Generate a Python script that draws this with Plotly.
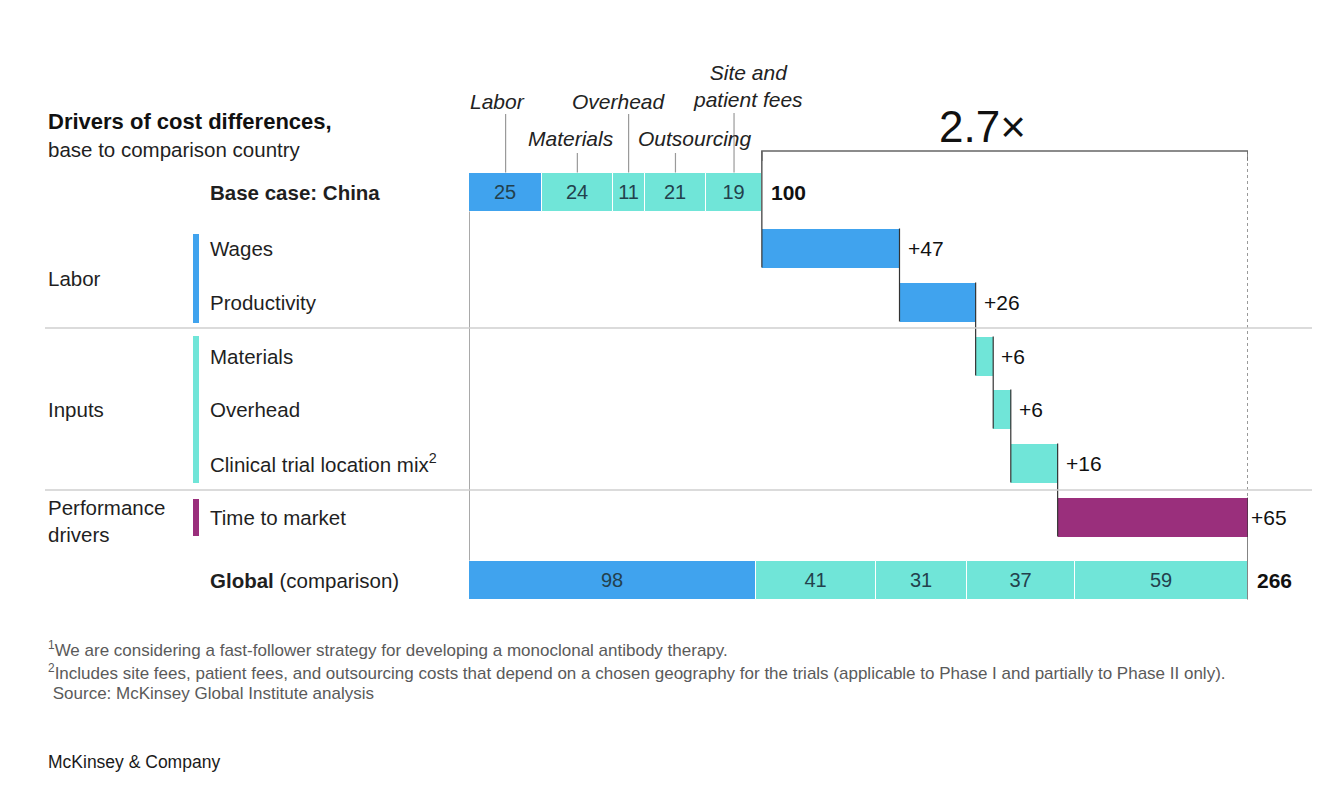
import plotly.graph_objects as go
import numpy as np

# ---------------- data ----------------
BASE_LABELS = ["Labor", "Materials", "Overhead", "Outsourcing", "Site and<br>patient fees"]
BASE_VALUES = [25, 24, 11, 21, 19]
BASE_COLORS_KEY = ["labor", "inputs", "inputs", "inputs", "inputs"]

STEP_LABELS = ["Wages", "Productivity", "Materials", "Overhead", "Clinical trial location mix<sup>2</sup>", "Time to market"]
STEP_VALUES = [47, 26, 6, 6, 16, 65]
STEP_GROUPS = ["labor", "labor", "inputs", "inputs", "inputs", "perf"]

GLOBAL_VALUES = [98, 41, 31, 37, 59]
GLOBAL_COLORS_KEY = ["labor", "inputs", "inputs", "inputs", "inputs"]

GROUPS = [("labor", "Labor"), ("inputs", "Inputs"), ("perf", "Performance<br>drivers")]
MULTIPLE = "2.7×"

# ---------------- styles / layout ----------------
W, H = 1334, 794
COL = {"labor": "#40A3EE", "inputs": "#70E5D8", "perf": "#9A2F7C"}
FONT = "Liberation Sans, Arial, sans-serif"
TXT = "#1f1f1f"
X0_PX, X1_PX = 469, 1248
TOTAL = sum(GLOBAL_VALUES)
ROW_Y = [192, 248, 302, 356, 409, 463, 517, 580]  # row centres (px)
BAR_H = 39

def px(x):
    return x / W

fig = go.Figure()

# base case stacked bar
base_off = np.concatenate([[0], np.cumsum(BASE_VALUES)[:-1]]).astype(float)
fig.add_trace(go.Bar(
    orientation="h", y=[ROW_Y[0]] * len(BASE_VALUES), x=BASE_VALUES, base=base_off,
    width=BAR_H, marker=dict(color=[COL[k] for k in BASE_COLORS_KEY], line=dict(color="white", width=1)),
    text=[str(v) for v in BASE_VALUES], textposition="inside", insidetextanchor="middle",
    textfont=dict(family=FONT, size=20, color="#23414d"), hoverinfo="skip", showlegend=False))

# waterfall steps
base_total = sum(BASE_VALUES)
step_off = base_total + np.concatenate([[0], np.cumsum(STEP_VALUES)[:-1]]).astype(float)
fig.add_trace(go.Bar(
    orientation="h", y=ROW_Y[1:1 + len(STEP_VALUES)], x=STEP_VALUES, base=step_off,
    width=BAR_H, marker=dict(color=[COL[g] for g in STEP_GROUPS], line=dict(width=0)),
    textposition="none", hoverinfo="skip", showlegend=False))

# global stacked bar
glob_off = np.concatenate([[0], np.cumsum(GLOBAL_VALUES)[:-1]]).astype(float)
fig.add_trace(go.Bar(
    orientation="h", y=[ROW_Y[-1]] * len(GLOBAL_VALUES), x=GLOBAL_VALUES, base=glob_off,
    width=BAR_H, marker=dict(color=[COL[k] for k in GLOBAL_COLORS_KEY], line=dict(color="white", width=1)),
    text=[str(v) for v in GLOBAL_VALUES], textposition="inside", insidetextanchor="middle",
    textfont=dict(family=FONT, size=20, color="#23414d"), hoverinfo="skip", showlegend=False))

shapes = []
ann = []
half = BAR_H / 2
LINE = "#333333"

# connectors
ends = [float(base_total)] + [float(v) for v in base_total + np.cumsum(STEP_VALUES)]
shapes.append(dict(type="line", xref="x", yref="y", x0=ends[0], x1=ends[0], y0=151, y1=ROW_Y[1] + half,
                   line=dict(color=LINE, width=1.2)))
for i in range(1, len(STEP_VALUES)):
    shapes.append(dict(type="line", xref="x", yref="y", x0=ends[i], x1=ends[i],
                       y0=ROW_Y[i] - half, y1=ROW_Y[i + 1] + half, line=dict(color=LINE, width=1.2)))
shapes.append(dict(type="line", xref="x", yref="y", x0=ends[-1], x1=ends[-1], y0=151, y1=ROW_Y[len(STEP_VALUES)] - half,
                   line=dict(color="#777777", width=1.5, dash="dot")))
shapes.append(dict(type="line", xref="x", yref="y", x0=ends[-1], x1=ends[-1], y0=ROW_Y[len(STEP_VALUES)] - half,
                   y1=ROW_Y[-1] + half, line=dict(color=LINE, width=1.2)))
# zero line
shapes.append(dict(type="line", xref="x", yref="y", x0=0, x1=0, y0=ROW_Y[0] + half, y1=ROW_Y[-1] - half,
                   line=dict(color="#555555", width=1)))
# bracket
shapes.append(dict(type="path", xref="x", yref="y",
                   path=f"M {base_total},161 L {base_total},151 L {TOTAL},151 L {TOTAL},161",
                   line=dict(color="#666666", width=1.5)))
ann.append(dict(x=(base_total + TOTAL) / 2, xref="x", y=126, yref="y", text=MULTIPLE, showarrow=False,
                xshift=-22, font=dict(family=FONT, size=44, color="#111111"), xanchor="center", yanchor="middle"))

# horizontal separators
for yy in [328, 490]:
    shapes.append(dict(type="line", xref="paper", yref="y", x0=px(45), x1=px(1312), y0=yy, y1=yy,
                       line=dict(color="#cfcfcf", width=1.5)))

# group colour markers
grp_spans = {"labor": (234, 323), "inputs": (336, 483), "perf": (499, 536)}
for g, (a, b) in grp_spans.items():
    shapes.append(dict(type="rect", xref="paper", yref="y", x0=px(193), x1=px(199), y0=a, y1=b,
                       fillcolor=COL[g], line=dict(width=0)))

# leader lines + header labels for base segments
lead_tops = [114, 153, 114, 153, 113]
head_y = [101, 138, 101, 138, 86]
head_shift = [-8, -6, -10, 20, 14]
for i, v in enumerate(BASE_VALUES):
    c = float(base_off[i] + v / 2)
    shapes.append(dict(type="line", xref="x", yref="y", x0=c, x1=c, y0=lead_tops[i], y1=ROW_Y[0] - half,
                       line=dict(color="#9a9a9a", width=1.2)))
    ann.append(dict(x=c, xref="x", y=head_y[i], yref="y", text=f"<i>{BASE_LABELS[i]}</i>", showarrow=False,
                    xanchor="center", yanchor="middle", font=dict(family=FONT, size=21, color="#222222"),
                    xshift=head_shift[i]))

# value labels
ann.append(dict(x=float(base_total), xref="x", y=ROW_Y[0], yref="y", text=f"<b>{base_total}</b>", showarrow=False,
                xanchor="left", xshift=7, font=dict(family=FONT, size=21, color="#111111")))
for i, v in enumerate(STEP_VALUES):
    ann.append(dict(x=ends[i + 1], xref="x", y=ROW_Y[i + 1], yref="y", text=f"+{v}", showarrow=False,
                    xanchor="left", xshift=6 if i < len(STEP_VALUES) - 1 else 1,
                    font=dict(family=FONT, size=21, color="#111111")))
ann.append(dict(x=float(TOTAL), xref="x", y=ROW_Y[-1], yref="y", text=f"<b>{TOTAL}</b>", showarrow=False,
                xanchor="left", xshift=7, font=dict(family=FONT, size=21, color="#111111")))

# row labels
row_text = ["<b>Base case: China</b>"] + STEP_LABELS + ["<b>Global</b> (comparison)"]
for t, yy in zip(row_text, ROW_Y):
    ann.append(dict(x=px(208), xref="paper", y=yy, yref="y", text=t, showarrow=False, xanchor="left",
                    yanchor="middle", font=dict(family=FONT, size=20.5, color=TXT)))

# group labels
grp_y = {"labor": 278, "inputs": 409, "perf": 521}
for g, t in GROUPS:
    ann.append(dict(x=px(46), xref="paper", y=grp_y[g], yref="y", text=t, showarrow=False, xanchor="left",
                    yanchor="middle", align="left", font=dict(family=FONT, size=20.5, color=TXT)))

# title
ann.append(dict(x=px(46), xref="paper", y=121, yref="y", text="<b>Drivers of cost differences,</b>", showarrow=False,
                xanchor="left", yanchor="middle", font=dict(family=FONT, size=22, color="#111111")))
ann.append(dict(x=px(46), xref="paper", y=149, yref="y", text="base to comparison country", showarrow=False,
                xanchor="left", yanchor="middle", font=dict(family=FONT, size=20.5, color=TXT)))

# footnotes
foots = [(649, "<sup>1</sup>We are considering a fast-follower strategy for developing a monoclonal antibody therapy."),
         (672, "<sup>2</sup>Includes site fees, patient fees, and outsourcing costs that depend on a chosen geography for the trials (applicable to Phase I and partially to Phase II only)."),
         (693, " Source: McKinsey Global Institute analysis")]
for yy, t in foots:
    ann.append(dict(x=px(46), xref="paper", y=yy, yref="y", text=t, showarrow=False, xanchor="left",
                    yanchor="middle", font=dict(family=FONT, size=17, color="#5a5a5a")))
ann.append(dict(x=px(46), xref="paper", y=762, yref="y", text="McKinsey & Company", showarrow=False,
                xanchor="left", yanchor="middle", font=dict(family=FONT, size=17.5, color="#1a1a1a")))

fig.update_layout(
    width=W, height=H, margin=dict(l=0, r=0, t=0, b=0), plot_bgcolor="white", paper_bgcolor="white",
    barmode="overlay", bargap=0, shapes=shapes, annotations=ann,
    xaxis=dict(domain=[X0_PX / W, X1_PX / W], range=[0, TOTAL], visible=False, fixedrange=True),
    yaxis=dict(domain=[0, 1], range=[H, 0], visible=False, fixedrange=True),
    font=dict(family=FONT),
)
fig.update_traces(cliponaxis=False)
fig.write_html("out.html")
